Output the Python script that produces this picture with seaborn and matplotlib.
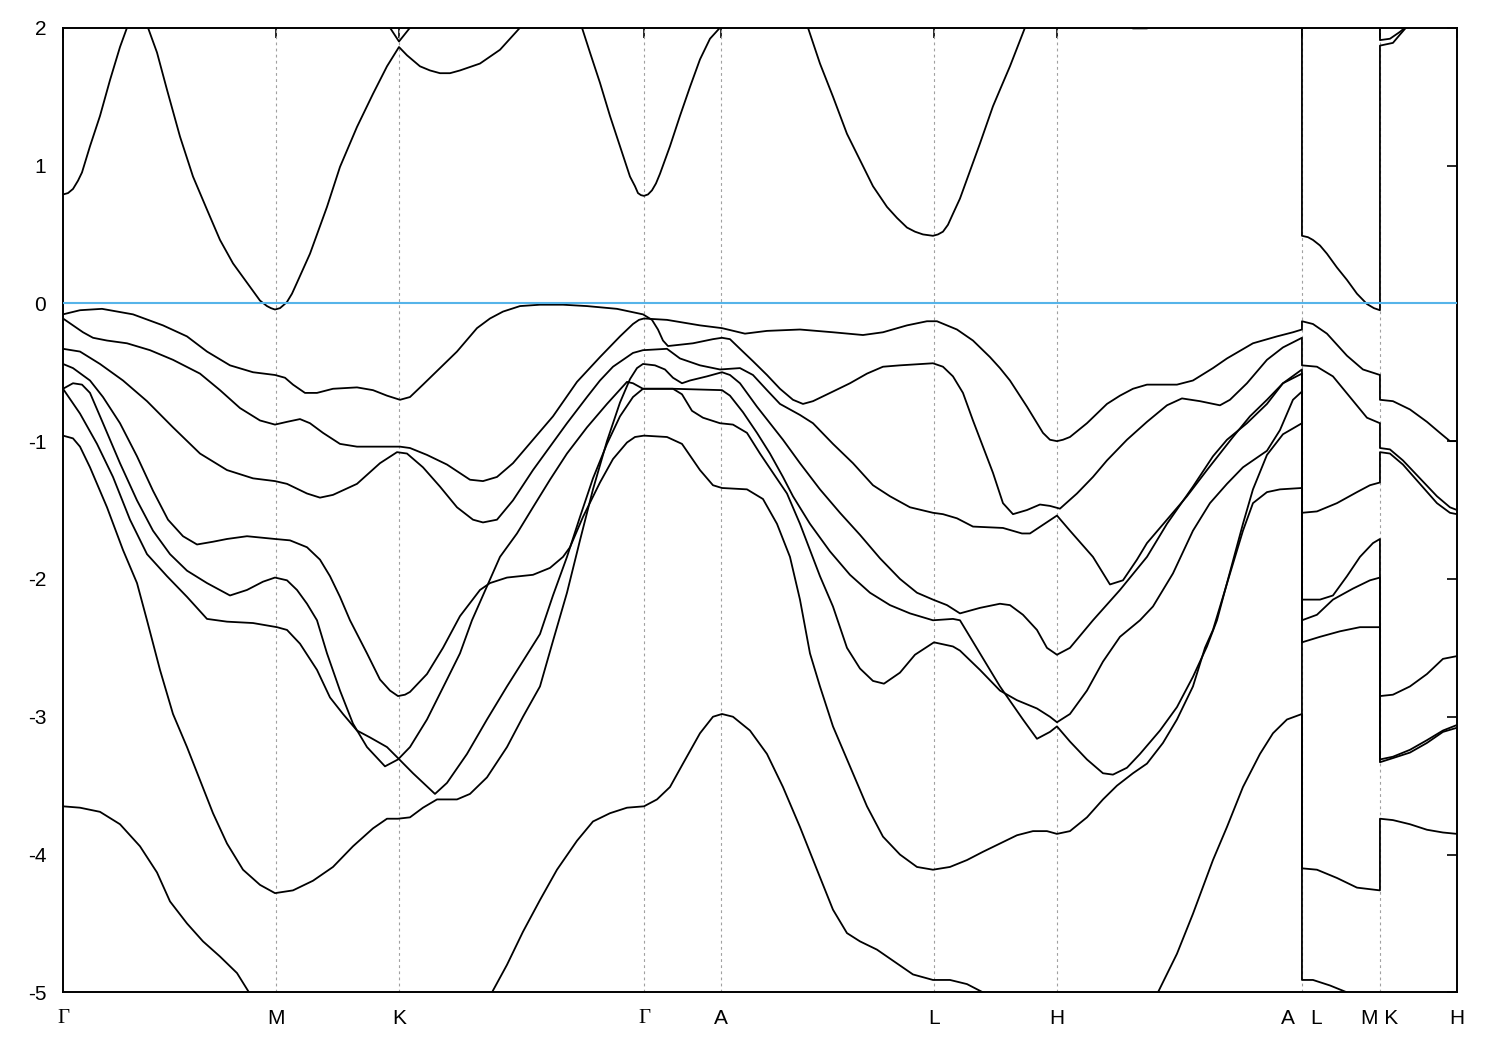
import pandas as pd
import matplotlib
matplotlib.use("Agg")
import matplotlib.pyplot as plt
import seaborn as sns

# high-symmetry points along the k-path (path coordinate) and their labels
kpath = [63, 276, 399, 644, 721, 934, 1057, 1302, 1380, 1457]
klabels = ["Γ", "M", "K", "Γ", "A", "L", "H", "A   L", "M K", "H"]

# conduction band pieces (k, E in eV)
cb1 = [(63, 0.79), (68, 0.80), (73, 0.83), (78, 0.89), (82, 0.95), (90, 1.14), (100, 1.36), (110, 1.62),
       (120, 1.86), (127, 2.0)]
cb2 = [(148, 2.0), (157, 1.82), (167, 1.55), (180, 1.21), (193, 0.92), (207, 0.68), (220, 0.46),
       (233, 0.29), (247, 0.15), (255, 0.07), (260, 0.02), (267, -0.02), (271, -0.035), (275, -0.045),
       (280, -0.035), (284, -0.01), (287, 0.01), (292, 0.07), (297, 0.15), (310, 0.36),
       (327, 0.70), (340, 0.99), (357, 1.28), (373, 1.52), (387, 1.72), (399, 1.86), (407, 1.80),
       (420, 1.72), (430, 1.69), (440, 1.67), (450, 1.67), (460, 1.69), (480, 1.74), (500, 1.84), (520, 2.0)]
cb_k = [(390, 2.0), (399, 1.90), (410, 2.0)]
cb_gamma = [(582, 2.0), (590, 1.82), (600, 1.60), (610, 1.36), (620, 1.14), (630, 0.92), (635, 0.85),
            (638, 0.80), (641, 0.785), (644, 0.78), (648, 0.79), (652, 0.82), (656, 0.87), (660, 0.94),
            (670, 1.14), (680, 1.36), (690, 1.57), (700, 1.77), (710, 1.92), (720, 2.0)]
cb_l = [(808, 2.0), (820, 1.74), (833, 1.50), (847, 1.23), (860, 1.04), (873, 0.85), (887, 0.70),
        (897, 0.62), (907, 0.55), (915, 0.52), (923, 0.50), (933, 0.49), (938, 0.50), (943, 0.52),
        (948, 0.57), (953, 0.65), (960, 0.76), (967, 0.90), (980, 1.16), (993, 1.43), (1000, 1.55),
        (1010, 1.72), (1025, 2.0)]
cb_top = [(1120, 2.03), (1133, 1.995), (1147, 1.995), (1160, 2.03)]
cb_lm = [(1302, 2.1), (1302, 0.49), (1308, 0.48), (1313, 0.46), (1320, 0.42), (1327, 0.36), (1337, 0.26),
         (1347, 0.17), (1357, 0.07), (1367, -0.005), (1374, -0.035), (1380, -0.05), (1380, 1.87),
         (1393, 1.89), (1400, 1.95), (1406, 2.0)]
cb_kh = [(1380, 2.1), (1380, 1.91), (1390, 1.92), (1400, 1.97), (1405, 2.0)]

# valence bands
vb1 = [(63, -0.11), (73, -0.16), (83, -0.21), (93, -0.25), (107, -0.27), (127, -0.29), (150, -0.34),
       (173, -0.41), (200, -0.51), (220, -0.63), (240, -0.76), (260, -0.85), (275, -0.88), (287, -0.86),
       (300, -0.84), (310, -0.87), (323, -0.94), (340, -1.02), (357, -1.04), (400, -1.04), (410, -1.05),
       (427, -1.10), (447, -1.17), (470, -1.28), (483, -1.29), (497, -1.26), (513, -1.16), (533, -0.99),
       (553, -0.82), (577, -0.57), (600, -0.39), (620, -0.24), (633, -0.15), (639, -0.12), (644, -0.11),
       (667, -0.12), (700, -0.16), (722, -0.18), (745, -0.22), (767, -0.20), (800, -0.19), (833, -0.21),
       (863, -0.23), (883, -0.21), (907, -0.16), (927, -0.13), (937, -0.13), (957, -0.19), (973, -0.27),
       (990, -0.39), (1000, -0.47), (1010, -0.56), (1027, -0.75), (1043, -0.94), (1050, -0.99), (1057, -1.00),
       (1063, -0.99), (1070, -0.97), (1087, -0.87), (1107, -0.73), (1120, -0.67), (1133, -0.62), (1147, -0.59),
       (1177, -0.59), (1193, -0.56), (1213, -0.47), (1227, -0.40), (1253, -0.29), (1277, -0.24),
       (1293, -0.21), (1302, -0.19),
       (1302, -0.13), (1313, -0.15), (1327, -0.22), (1347, -0.38), (1363, -0.48), (1380, -0.52),
       (1380, -0.70), (1393, -0.71), (1410, -0.77), (1427, -0.86), (1440, -0.94), (1450, -1.00), (1457, -1.00)]
vb2 = [(63, -0.08), (80, -0.05), (102, -0.04), (133, -0.08), (163, -0.16), (187, -0.24), (207, -0.35),
       (230, -0.45), (253, -0.50), (275, -0.52), (285, -0.54), (293, -0.59), (305, -0.65), (317, -0.65),
       (333, -0.62), (357, -0.61), (373, -0.63), (387, -0.67), (400, -0.70), (410, -0.68), (423, -0.59),
       (440, -0.47), (457, -0.35), (477, -0.18), (490, -0.11), (503, -0.06), (520, -0.02), (540, -0.01),
       (563, -0.01), (587, -0.02), (617, -0.04), (643, -0.08),
       (652, -0.12), (658, -0.19), (663, -0.27), (668, -0.31), (693, -0.29), (713, -0.26), (722, -0.25),
       (730, -0.26), (740, -0.33), (753, -0.42), (767, -0.52), (780, -0.62), (793, -0.70), (803, -0.73),
       (813, -0.71), (833, -0.64), (850, -0.58), (867, -0.51), (883, -0.46), (900, -0.45), (933, -0.435),
       (943, -0.46), (953, -0.53), (963, -0.65), (973, -0.85), (983, -1.04), (993, -1.23), (1003, -1.45),
       (1013, -1.53), (1027, -1.50), (1040, -1.46), (1050, -1.47), (1060, -1.49), (1077, -1.38),
       (1093, -1.26), (1107, -1.14), (1127, -0.99), (1147, -0.86), (1167, -0.74), (1182, -0.69),
       (1200, -0.71), (1220, -0.74), (1230, -0.70), (1247, -0.58), (1267, -0.41), (1283, -0.32), (1302, -0.25),
       (1302, -0.45), (1317, -0.46), (1333, -0.53), (1350, -0.68), (1367, -0.83), (1380, -0.87),
       (1380, -1.05), (1390, -1.06), (1403, -1.14), (1420, -1.27), (1437, -1.40), (1450, -1.48), (1457, -1.50)]
vb3 = [(63, -0.96), (73, -0.98), (80, -1.04), (90, -1.19), (107, -1.48), (123, -1.79), (137, -2.03),
       (147, -2.30), (160, -2.66), (173, -2.98), (187, -3.22), (200, -3.46), (213, -3.70), (227, -3.92),
       (243, -4.11), (260, -4.22), (275, -4.28), (293, -4.26), (313, -4.19), (333, -4.09), (353, -3.94),
       (373, -3.81), (387, -3.74), (398, -3.74), (410, -3.73), (423, -3.66), (437, -3.60), (457, -3.60),
       (470, -3.56), (487, -3.44), (507, -3.22), (523, -3.00), (540, -2.78), (553, -2.45), (567, -2.10),
       (580, -1.72), (593, -1.35), (607, -1.00), (620, -0.72), (630, -0.55), (637, -0.47), (643, -0.44),
       (655, -0.45), (665, -0.48), (673, -0.54), (682, -0.58), (690, -0.56), (707, -0.53), (722, -0.50),
       (730, -0.52), (740, -0.58), (757, -0.75), (770, -0.87), (783, -0.99), (800, -1.16), (820, -1.35),
       (840, -1.52), (860, -1.68), (880, -1.85), (900, -2.00), (917, -2.10), (933, -2.15), (947, -2.19),
       (960, -2.25), (980, -2.21), (1000, -2.18), (1010, -2.19), (1023, -2.26), (1037, -2.37),
       (1047, -2.50), (1057, -2.55), (1070, -2.50), (1093, -2.30), (1120, -2.08), (1147, -1.84),
       (1167, -1.60), (1193, -1.33), (1213, -1.11), (1227, -0.99), (1247, -0.87), (1267, -0.73),
       (1283, -0.58), (1302, -0.48),
       (1302, -1.52), (1317, -1.51), (1337, -1.45), (1357, -1.37), (1370, -1.32), (1380, -1.30),
       (1380, -1.08), (1390, -1.09), (1403, -1.17), (1420, -1.31), (1437, -1.45), (1450, -1.52), (1457, -1.53)]
vb4 = [(63, -0.33), (80, -0.35), (100, -0.44), (123, -0.56), (147, -0.71), (173, -0.90), (200, -1.09),
       (227, -1.21), (253, -1.27), (275, -1.29), (287, -1.31), (307, -1.38), (320, -1.41), (333, -1.39),
       (357, -1.31), (380, -1.16), (397, -1.08), (407, -1.09), (423, -1.19), (440, -1.33), (457, -1.48),
       (473, -1.57), (483, -1.59), (497, -1.57), (513, -1.43), (533, -1.21), (550, -1.04), (567, -0.87),
       (587, -0.68), (600, -0.56), (613, -0.46), (633, -0.36), (643, -0.34),
       (667, -0.33), (680, -0.40), (700, -0.45), (720, -0.48), (740, -0.47), (753, -0.52), (767, -0.63),
       (780, -0.73), (800, -0.81), (813, -0.87), (833, -1.02), (853, -1.16), (873, -1.32), (890, -1.40),
       (910, -1.48), (933, -1.52), (943, -1.53), (957, -1.56), (973, -1.62), (1003, -1.63), (1022, -1.67),
       (1030, -1.67), (1057, -1.54), (1070, -1.65), (1093, -1.84), (1110, -2.04), (1123, -2.01),
       (1137, -1.86), (1147, -1.74), (1167, -1.57), (1187, -1.40), (1207, -1.21), (1220, -1.09),
       (1233, -0.97), (1250, -0.82), (1267, -0.70), (1283, -0.58), (1302, -0.51),
       (1302, -2.15), (1320, -2.15), (1333, -2.12), (1347, -1.98), (1360, -1.84), (1373, -1.74), (1380, -1.71),
       (1380, -2.85), (1393, -2.84), (1410, -2.78), (1427, -2.69), (1443, -2.58), (1457, -2.56)]
vb5 = [(63, -0.62), (73, -0.58), (82, -0.59), (90, -0.65), (103, -0.87), (120, -1.16), (137, -1.43),
       (153, -1.65), (170, -1.82), (187, -1.94), (207, -2.03), (230, -2.12), (247, -2.08), (263, -2.02),
       (275, -1.99), (287, -2.01), (297, -2.08), (307, -2.18), (317, -2.30), (327, -2.54), (340, -2.81),
       (353, -3.05), (367, -3.22), (385, -3.36), (398, -3.31), (410, -3.22), (427, -3.02), (447, -2.73),
       (460, -2.54), (472, -2.30), (500, -1.84), (517, -1.67), (533, -1.48), (550, -1.28), (567, -1.09),
       (587, -0.90), (607, -0.73), (627, -0.57), (633, -0.58), (643, -0.62),
       (673, -0.62), (682, -0.66), (692, -0.78), (703, -0.83), (720, -0.87), (733, -0.88), (747, -0.94),
       (760, -1.09), (773, -1.23), (787, -1.38), (800, -1.60), (810, -1.79), (820, -1.98), (833, -2.20),
       (847, -2.50), (860, -2.65), (873, -2.74), (884, -2.76), (900, -2.68), (915, -2.55), (934, -2.46),
       (953, -2.49), (960, -2.52), (980, -2.66), (1000, -2.81), (1017, -2.88), (1037, -2.94), (1050, -3.00),
       (1057, -3.04), (1070, -2.98), (1087, -2.81), (1103, -2.60), (1120, -2.42), (1140, -2.30),
       (1153, -2.20), (1173, -1.96), (1193, -1.65), (1210, -1.45), (1227, -1.31), (1243, -1.19),
       (1253, -1.14), (1267, -1.07), (1280, -0.92), (1293, -0.70), (1302, -0.64),
       (1302, -2.30), (1317, -2.26), (1333, -2.15), (1353, -2.07), (1370, -2.01), (1380, -1.99),
       (1380, -3.31), (1393, -3.29), (1410, -3.24), (1427, -3.17), (1443, -3.10), (1457, -3.06)]
vb6 = [(63, -0.62), (80, -0.80), (97, -1.02), (113, -1.26), (130, -1.57), (147, -1.82), (167, -1.98),
       (187, -2.13), (207, -2.29), (227, -2.31), (253, -2.32), (277, -2.35), (287, -2.37), (300, -2.47),
       (317, -2.66), (330, -2.86), (343, -2.98), (357, -3.10), (370, -3.15), (387, -3.22), (398, -3.30),
       (413, -3.41), (435, -3.56), (447, -3.48), (467, -3.27), (487, -3.02), (507, -2.78), (540, -2.40),
       (553, -2.12), (567, -1.84), (580, -1.55), (593, -1.27), (607, -1.02), (620, -0.82), (633, -0.68),
       (643, -0.62),
       (673, -0.62), (722, -0.63), (730, -0.67), (743, -0.79), (757, -0.94), (770, -1.09), (783, -1.26),
       (793, -1.40), (810, -1.60), (830, -1.80), (850, -1.97), (870, -2.10), (890, -2.19), (910, -2.25),
       (933, -2.30), (953, -2.29), (960, -2.30), (980, -2.54), (1000, -2.78), (1023, -3.02), (1037, -3.16),
       (1050, -3.11), (1057, -3.07), (1070, -3.18), (1087, -3.31), (1103, -3.41), (1113, -3.42),
       (1127, -3.37), (1140, -3.27), (1160, -3.10), (1177, -2.93), (1193, -2.71), (1207, -2.49),
       (1217, -2.30), (1230, -1.95), (1243, -1.60), (1253, -1.35), (1267, -1.10), (1283, -0.95), (1302, -0.87),
       (1302, -2.46), (1320, -2.42), (1340, -2.38), (1360, -2.35), (1380, -2.35),
       (1380, -3.33), (1393, -3.30), (1410, -3.26), (1427, -3.19), (1443, -3.11), (1457, -3.08)]
vb7 = [(63, -0.44), (73, -0.47), (90, -0.56), (103, -0.68), (120, -0.87), (137, -1.11), (153, -1.36),
       (168, -1.57), (183, -1.69), (197, -1.75), (213, -1.73), (227, -1.71), (247, -1.69), (275, -1.71),
       (290, -1.72), (307, -1.77), (320, -1.86), (330, -1.98), (340, -2.13), (350, -2.30), (367, -2.54),
       (380, -2.73), (390, -2.81), (398, -2.85), (405, -2.84), (410, -2.82), (427, -2.69), (443, -2.50),
       (460, -2.27), (480, -2.08), (490, -2.03), (507, -1.99), (533, -1.97), (550, -1.92), (563, -1.84),
       (570, -1.77), (583, -1.55), (600, -1.30), (613, -1.13), (627, -1.01), (635, -0.97), (644, -0.96),
       (667, -0.97), (682, -1.02), (700, -1.21), (713, -1.32), (722, -1.34), (747, -1.35), (763, -1.42),
       (777, -1.60), (790, -1.84), (800, -2.15), (810, -2.54), (820, -2.78), (833, -3.07), (850, -3.36),
       (867, -3.65), (883, -3.87), (900, -4.00), (917, -4.09), (933, -4.11), (950, -4.09), (967, -4.04),
       (983, -3.98), (1000, -3.92), (1017, -3.86), (1033, -3.83), (1047, -3.83), (1057, -3.85),
       (1070, -3.83), (1087, -3.73), (1103, -3.60), (1117, -3.50), (1133, -3.41), (1147, -3.34),
       (1163, -3.19), (1177, -3.02), (1193, -2.78), (1205, -2.50), (1213, -2.37), (1223, -2.13),
       (1233, -1.89), (1243, -1.65), (1253, -1.45), (1267, -1.37), (1280, -1.35), (1302, -1.34),
       (1302, -4.10), (1317, -4.11), (1337, -4.17), (1357, -4.24), (1380, -4.26),
       (1380, -3.74), (1393, -3.75), (1410, -3.78), (1427, -3.82), (1443, -3.84), (1457, -3.85)]
vb8 = [(63, -3.65), (80, -3.66), (100, -3.69), (120, -3.78), (140, -3.94), (157, -4.13), (170, -4.34),
       (187, -4.50), (203, -4.63), (220, -4.74), (237, -4.86), (249, -5.0)]
vb9 = [(492, -5.0), (507, -4.80), (523, -4.56), (540, -4.33), (557, -4.11), (577, -3.90), (593, -3.76),
       (610, -3.70), (627, -3.66), (644, -3.65), (657, -3.60), (670, -3.51), (683, -3.34), (700, -3.12),
       (713, -3.00), (722, -2.98), (733, -3.00), (750, -3.10), (767, -3.27), (783, -3.51), (800, -3.80),
       (817, -4.11), (833, -4.40), (847, -4.57), (860, -4.63), (877, -4.69), (897, -4.79), (913, -4.87),
       (933, -4.91), (950, -4.91), (967, -4.94), (983, -5.0)]
vb10 = [(1158, -5.0), (1177, -4.72), (1193, -4.43), (1213, -4.04), (1227, -3.80), (1243, -3.51),
        (1260, -3.27), (1273, -3.12), (1287, -3.02), (1302, -2.98),
        (1302, -4.91), (1313, -4.91), (1330, -4.95), (1347, -5.0)]

bands = {"cb1": cb1, "cb2": cb2, "cb_k": cb_k, "cb_gamma": cb_gamma, "cb_l": cb_l, "cb_top": cb_top,
         "cb_lm": cb_lm, "cb_kh": cb_kh, "vb1": vb1, "vb2": vb2, "vb3": vb3, "vb4": vb4, "vb5": vb5,
         "vb6": vb6, "vb7": vb7, "vb8": vb8, "vb9": vb9, "vb10": vb10}
rows = [(name, k, e) for name, pts in bands.items() for k, e in pts]
df = pd.DataFrame(rows, columns=["band", "k", "E"])

sns.set_style("white")
plt.rcParams["font.family"] = ["Liberation Sans", "DejaVu Sans"]

fig, ax = plt.subplots(figsize=(15, 10.5), dpi=100)
fig.subplots_adjust(left=0.042, right=0.9713, bottom=0.0549, top=0.9736)

# dotted guides at the high-symmetry points
for k in kpath[1:-1]:
    ax.axvline(k, color="#a0a0a0", lw=0.8, ls=(0, (2.5, 3)), zorder=1)

sns.lineplot(data=df, x="k", y="E", units="band", estimator=None, sort=False,
             color="black", linewidth=1.3, legend=False, ax=ax, zorder=2)

# Fermi level
ax.axhline(0, color="#56B4E9", lw=1.5, zorder=3)

ax.set_xlim(kpath[0], kpath[-1])
ax.set_ylim(-5, 2)
ax.set_xticks(kpath)
ax.set_xticklabels(klabels)
yt = list(range(-5, 3))
ax.set_yticks(yt)
ax.set_yticklabels([str(v) for v in yt])
ax.set_xlabel("")
ax.set_ylabel("")

ax.tick_params(direction="in", length=7, width=1.2, top=True, right=True,
               labelsize=15, pad=12, colors="black")
for lab in ax.get_xticklabels():
    if lab.get_text() == "Γ":
        lab.set_family(["Liberation Serif", "DejaVu Serif"])
for sp in ax.spines.values():
    sp.set_color("black")
    sp.set_linewidth(1.4)

fig.savefig("out.png", dpi=100)
